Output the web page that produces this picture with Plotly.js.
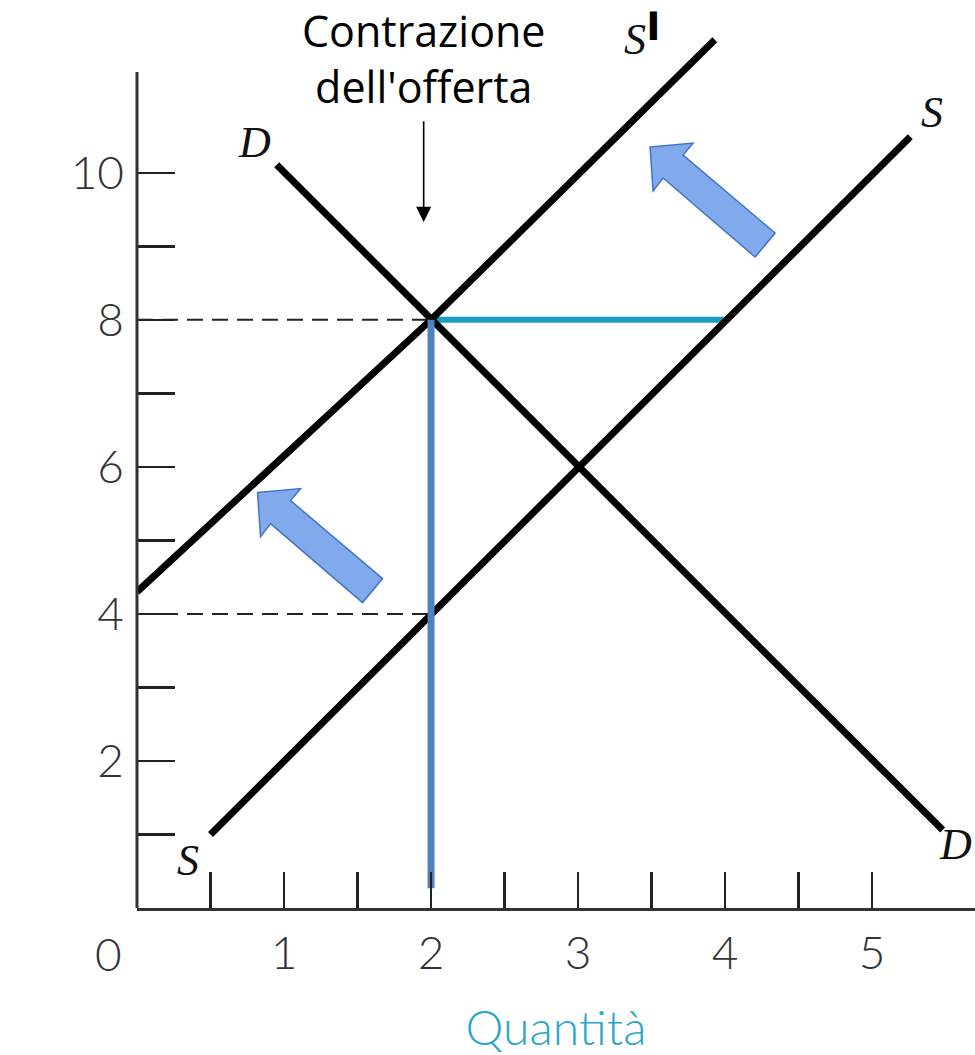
<!DOCTYPE html>
<html>
<head>
<meta charset="utf-8">
<script src="https://cdn.plot.ly/plotly-3.0.1.min.js"></script>
<style>body{margin:0;background:#fff}</style>
</head>
<body>
<div id="grafico" style="width:975px;height:1055px"></div>
<script>
// Curve di domanda e offerta (quantità, prezzo)
const domandaQ = [0.95, 5.48];
const domandaP = [10.11, 1.06];
const offertaQ = [0.5, 5.26];
const offertaP = [1.0, 10.49];
const offertaNuovaQ = [0.0, 2.0, 3.93];
const offertaNuovaP = [4.3, 8.0, 11.81];

// Equilibrio prima e dopo la contrazione
const prezzoNuovo = 8;
const prezzoVecchio = 4;
const quantitaNuova = 2;
const quantitaVecchia = 4;
const quantitaFondo = 0.27;

// Tacche degli assi
const tickPrezzo = [1, 2, 3, 4, 5, 6, 7, 8, 9, 10];
const etichettePrezzo = ['', '2', '', '4', '', '6', '', '8', '', '10'];
const tickQuantita = [0.5, 1, 1.5, 2, 2.5, 3, 3.5, 4, 4.5, 5];
const etichetteQuantita = ['', '1', '', '2', '', '3', '', '4', '', '5'];

const rangeQ = [0, 5.70];
const rangeP = [0, 12.35];
const pxPerQ = 838 / (rangeQ[1] - rangeQ[0]);
const pxPerP = 908 / (rangeP[1] - rangeP[0]);

// Sagoma della freccia blu, in pixel rispetto alla punta
const frecciaPx = [[0, 0], [43, -4], [33, 8], [125, 86], [105, 110], [13, 31], [3, 44]];
function freccia(q, p) {
    return 'M ' + frecciaPx.map(([dx, dy]) =>
        (q + dx / pxPerQ).toFixed(4) + ',' + (p - dy / pxPerP).toFixed(4)).join(' L ') + ' Z';
}

const nero = {color: '#000', width: 7};
const tratteggio = {color: '#222', width: 2, dash: '16px,9px'};

const data = [
    {x: [0, quantitaNuova], y: [prezzoNuovo, prezzoNuovo], mode: 'lines', line: tratteggio},
    {x: [0, quantitaNuova], y: [prezzoVecchio, prezzoVecchio], mode: 'lines', line: tratteggio},
    {x: [quantitaNuova, quantitaVecchia], y: [prezzoNuovo, prezzoNuovo], mode: 'lines',
        line: {color: '#1b9cc2', width: 6}},
    {x: domandaQ, y: domandaP, mode: 'lines', line: nero},
    {x: offertaQ, y: offertaP, mode: 'lines', line: nero},
    {x: offertaNuovaQ, y: offertaNuovaP, mode: 'lines', line: nero},
    {x: [quantitaNuova, quantitaNuova], y: [quantitaFondo, prezzoNuovo], mode: 'lines',
        line: {color: '#4f81bd', width: 7}}
];

const fontTick = {family: 'Lato', weight: 300, size: 46, color: '#333'};
const fontEtichetta = {family: 'Liberation Serif', style: 'italic', size: 44, color: '#111'};
const teal = '#2aa6c8';

const layout = {
    width: 975,
    height: 1055,
    margin: {l: 137, r: 0, t: 0, b: 147},
    paper_bgcolor: '#fff',
    plot_bgcolor: '#fff',
    showlegend: false,
    xaxis: {
        range: rangeQ,
        showgrid: false,
        zeroline: false,
        showline: true,
        linecolor: '#333',
        linewidth: 3,
        tickmode: 'array',
        tickvals: tickQuantita,
        ticktext: etichetteQuantita,
        ticks: 'inside',
        ticklen: 36,
        tickwidth: 2.5,
        tickcolor: '#222',
        tickfont: fontTick,
        ticklabelstandoff: 3,
        title: {text: 'Quantità', font: {family: 'Lato', weight: 300, size: 48, color: teal}, standoff: 34}
    },
    yaxis: {
        range: rangeP,
        showgrid: false,
        zeroline: false,
        showline: false,
        tickmode: 'array',
        tickvals: tickPrezzo,
        ticktext: etichettePrezzo,
        ticks: 'inside',
        ticklen: 38,
        tickwidth: 2.5,
        tickcolor: '#222',
        tickfont: fontTick,
        ticklabelstandoff: 12
    },
    shapes: [
        {type: 'line', xref: 'paper', yref: 'y', x0: 0, x1: 0, y0: 0, y1: 11.37,
            line: {color: '#333', width: 3}},
        {type: 'path', xref: 'x', yref: 'y', path: freccia(3.49, 10.35),
            fillcolor: '#80aaeb', line: {color: '#4472c4', width: 1.5}},
        {type: 'path', xref: 'x', yref: 'y', path: freccia(0.82, 5.65),
            fillcolor: '#80aaeb', line: {color: '#4472c4', width: 1.5}}
    ],
    annotations: [
        {x: 1.95, y: 11.56, text: 'Contrazione<br>dell\'offerta', showarrow: false,
            font: {family: 'Open Sans', size: 43, color: '#000'}},
        {x: 1.95, y: 9.33, ax: 1.95, ay: 10.72, axref: 'x', ayref: 'y', text: '',
            showarrow: true, arrowhead: 2, arrowsize: 1.9, arrowwidth: 1.6, arrowcolor: '#000'},
        {x: 0.8, y: 10.41, text: 'D', showarrow: false, font: fontEtichetta},
        {x: 0.999, xref: 'paper', xanchor: 'right', y: 0.86, text: 'D', showarrow: false, font: fontEtichetta},
        {x: 5.41, y: 10.82, text: 'S', showarrow: false, font: fontEtichetta},
        {x: 0.35, y: 0.65, text: 'S', showarrow: false, font: fontEtichetta},
        {x: 3.39, y: 11.81, text: 'S', showarrow: false, font: fontEtichetta},
        {x: 3.55, y: 12.0, text: '\u258D', showarrow: false,
            font: {family: 'DejaVu Sans', size: 24, color: '#000'}},
        {x: -0.0346, y: -0.0496, xref: 'paper', yref: 'paper', xanchor: 'center', yanchor: 'middle',
            text: '0', showarrow: false, font: fontTick},
        {x: -0.73, y: 4.99, text: 'Prezzo', textangle: -90, showarrow: false,
            font: {family: 'Lato', weight: 300, size: 44, color: teal}}
    ]
};

Plotly.newPlot('grafico', data, layout, {displayModeBar: false, staticPlot: true});
</script>
</body>
</html>
